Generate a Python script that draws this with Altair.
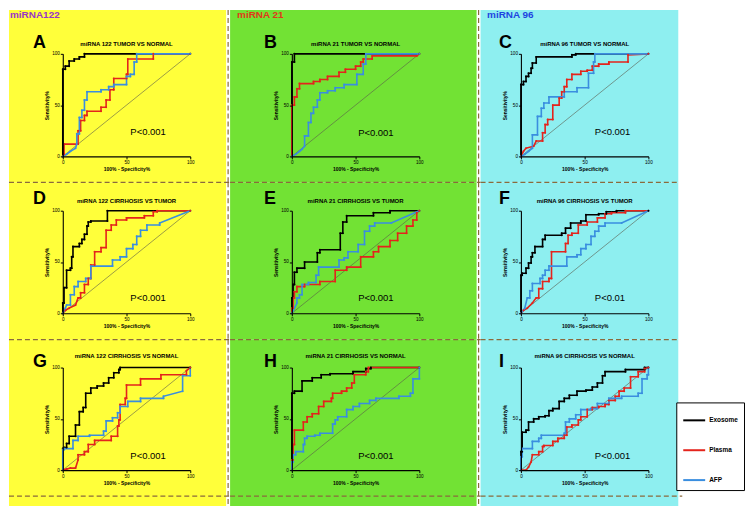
import altair as alt
import pandas as pd

FONT = "Liberation Sans, Arial, sans-serif"

SERIES = ["Exosome", "Plasma", "AFP"]
SERIES_COLORS = ["#000000", "#E4241C", "#3A8EDF"]

PANEL_LETTERS = ["A", "B", "C", "D", "E", "F", "G", "H", "I"]
PANEL_TITLES = [
    "miRNA 122 TUMOR VS NORMAL", "miRNA 21 TUMOR VS NORMAL", "miRNA 96 TUMOR VS NORMAL",
    "miRNA 122 CIRRHOSIS VS TUMOR", "miRNA 21 CIRRHOSIS VS TUMOR", "miRNA 96 CIRRHOSIS VS TUMOR",
    "miRNA 122 CIRRHOSIS VS NORMAL", "miRNA 21 CIRRHOSIS VS NORMAL", "miRNA 96 CIRRHOSIS VS NORMAL",
]
P_LABELS = ["P<0.001", "P<0.001", "P<0.001", "P<0.001", "P<0.001", "P<0.01", "P<0.001", "P<0.001", "P<0.001"]
P_X = [53, 52, 58, 53, 52, 58, 53, 52, 58]
P_Y = [21, 20, 21, 12, 12, 12, 11, 11, 11]

COLUMN_LABELS = ["miRNA122", "miRNA 21", "miRNA 96"]
COLUMN_LABEL_COLORS = ["#9A35C8", "#E0381A", "#1E44E0"]
COLUMN_BG = ["#FFFF3A", "#72E234", "#8EEFF0"]
DASH_COLOR = "#8A6A3C"
TICKS = [0, 50, 100]
DIAG_X = [0, 100]
DIAG_Y = [0, 100]

# ROC curves: (100% - specificity, sensitivity)
A_EXOSOME = [(0,0),(0,85),(2,85),(2,88),(5,88),(5,93),(9,93),(9,95),(13,95),(13,97),(17,97),(17,100),(100,100)]
A_PLASMA = [(0,0),(1,2),(1,12),(12,12),(12,25),(14,25),(14,35),(17,35),(17,40),(19,40),(19,44),(30,44),(30,48),(34,48),(34,55),(37,55),(37,65),(40,65),(40,76),(50,76),(50,80),(51,80),(51,95),(71,95),(71,100),(100,100)]
A_AFP = [(0,0),(3,2),(6,5),(10,8),(11,12),(11,22),(13,22),(13,38),(15,38),(15,45),(17,45),(17,55),(19,55),(19,63),(30,63),(30,65),(36,65),(36,68),(40,68),(40,70),(50,70),(50,78),(53,78),(53,80),(56,80),(56,92),(58,92),(58,100),(100,100)]

B_EXOSOME = [(0,0),(0,92),(2,92),(2,100),(100,100)]
B_PLASMA = [(0,0),(0,50),(2,50),(2,58),(4,58),(4,66),(6,66),(6,71),(17,71),(17,73),(22,73),(22,75),(28,75),(28,78),(37,78),(37,82),(42,82),(42,85),(50,85),(50,88),(54,88),(54,92),(56,92),(56,95),(63,95),(63,98),(98,98),(100,100)]
B_AFP = [(0,0),(3,2),(6,5),(8,7),(10,10),(10,20),(13,20),(13,33),(15,33),(15,42),(17,42),(17,48),(20,48),(20,55),(22,55),(22,62),(28,62),(28,64),(34,64),(34,67),(41,67),(41,70),(51,70),(51,80),(56,80),(56,90),(58,90),(58,100),(100,100)]

C_EXOSOME = [(0,0),(0,70),(2,70),(2,73),(4,73),(4,78),(6,78),(6,81),(8,81),(8,86),(9,86),(9,91),(12,91),(12,97),(40,97),(40,99),(43,99),(43,100),(100,100)]
C_PLASMA = [(0,0),(2,5),(4,8),(10,10),(12,15),(17,15),(17,23),(19,23),(19,31),(21,31),(21,36),(25,36),(25,50),(30,50),(30,57),(32,57),(32,63),(34,63),(34,68),(36,68),(36,75),(40,75),(40,80),(47,80),(47,83),(52,83),(52,84),(56,84),(56,88),(61,88),(61,90),(69,90),(69,92),(84,92),(84,99),(100,100)]
C_AFP = [(0,0),(3,2),(6,5),(9,8),(9,21),(13,21),(13,39),(16,39),(16,47),(18,47),(18,52),(22,52),(22,58),(34,58),(34,63),(44,63),(44,67),(53,67),(53,81),(57,81),(57,92),(58,92),(58,100),(100,100)]

D_EXOSOME = [(0,0),(0,10),(1,10),(1,25),(3,25),(3,42),(6,42),(6,44),(7,44),(7,55),(8,55),(8,65),(13,65),(13,68),(15,68),(15,72),(17,72),(17,77),(19,77),(19,85),(20,85),(20,89),(22,89),(22,90),(35,90),(35,100),(100,100)]
D_PLASMA = [(0,0),(2,3),(5,5),(10,8),(12,15),(14,15),(14,20),(17,20),(17,28),(20,28),(20,34),(22,34),(22,47),(25,47),(25,60),(30,60),(30,64),(34,64),(34,81),(38,81),(38,86),(42,86),(42,91),(50,91),(50,93),(64,93),(64,95),(71,95),(71,99),(74,99),(74,100),(100,100)]
D_AFP = [(0,0),(2,5),(3,8),(6,8),(6,18),(9,18),(9,26),(12,26),(12,31),(18,31),(18,34),(22,34),(22,46),(39,46),(39,52),(45,52),(45,55),(50,55),(50,63),(55,63),(55,67),(58,67),(58,75),(61,75),(61,81),(66,81),(66,86),(76,86),(76,88),(100,100)]

E_EXOSOME = [(0,0),(0,15),(1,15),(1,28),(2,28),(2,40),(4,40),(4,44),(10,44),(10,50),(20,50),(20,59),(22,59),(22,62),(38,62),(38,78),(40,78),(40,89),(43,89),(43,95),(64,95),(64,98),(77,98),(77,100),(100,100)]
E_PLASMA = [(0,0),(0,5),(1,5),(1,15),(2,15),(2,21),(4,21),(4,26),(10,26),(10,28),(22,28),(22,31),(34,31),(34,42),(43,42),(43,45),(54,45),(54,55),(64,55),(64,60),(68,60),(68,65),(77,65),(77,71),(83,71),(83,78),(90,78),(90,85),(95,85),(95,91),(98,91),(98,98),(100,100)]
E_AFP = [(0,0),(4,10),(4,15),(6,15),(6,18),(8,18),(8,28),(13,28),(13,30),(19,30),(19,37),(21,37),(21,45),(37,45),(37,52),(41,52),(41,54),(44,54),(44,60),(52,60),(52,67),(57,67),(57,80),(61,80),(61,85),(65,85),(65,88),(78,88),(100,100)]

F_EXOSOME = [(0,0),(0,37),(1,37),(1,39),(4,39),(4,44),(6,44),(6,49),(8,49),(8,55),(9,55),(9,59),(11,59),(11,65),(17,65),(17,72),(19,72),(19,76),(32,76),(32,78),(35,78),(35,83),(39,83),(39,88),(47,88),(47,90),(51,90),(51,96),(61,96),(61,97),(67,97),(67,99),(75,99),(75,100),(100,100)]
F_PLASMA = [(0,0),(2,3),(5,5),(9,10),(12,15),(14,15),(14,24),(17,24),(17,31),(22,31),(22,34),(24,34),(24,60),(35,60),(35,68),(37,68),(37,76),(40,76),(40,78),(45,78),(45,86),(52,86),(52,89),(60,89),(60,93),(66,93),(66,97),(71,97),(71,98),(82,98),(82,100),(100,100)]
F_AFP = [(0,0),(3,5),(5,15),(7,15),(7,22),(9,22),(9,29),(15,29),(15,34),(17,34),(17,37),(19,37),(19,42),(22,42),(22,46),(36,46),(36,55),(44,55),(44,57),(47,57),(47,63),(51,63),(51,67),(55,67),(55,75),(58,75),(58,80),(61,80),(61,85),(66,85),(66,88),(79,88),(100,100)]

G_EXOSOME = [(0,0),(0,21),(1,21),(1,22),(3,22),(3,26),(5,26),(5,33),(10,33),(10,44),(13,44),(13,57),(16,57),(16,61),(18,61),(18,75),(22,75),(22,80),(27,80),(27,82),(32,82),(32,85),(36,85),(36,90),(40,90),(40,95),(44,95),(44,98),(45,98),(45,100),(100,100)]
G_PLASMA = [(0,0),(3,1),(6,2),(10,2),(12,10),(12,15),(17,15),(17,18),(20,18),(20,25),(25,25),(25,29),(38,29),(38,33),(43,33),(43,43),(44,43),(44,49),(45,49),(45,64),(49,64),(49,70),(50,70),(50,83),(61,83),(61,89),(77,89),(77,93),(97,93),(97,97),(100,100)]
G_AFP = [(0,0),(0,20),(1,20),(1,21),(8,21),(8,29),(12,29),(12,33),(21,33),(21,34),(32,34),(32,38),(34,38),(34,48),(39,48),(39,51),(43,51),(43,56),(45,56),(45,62),(51,62),(51,67),(61,67),(61,70),(79,70),(79,72),(94,77),(94,92),(100,92),(100,100)]

H_EXOSOME = [(0,0),(0,75),(2,75),(2,77),(8,77),(8,87),(16,87),(16,90),(23,90),(23,93),(30,93),(30,94),(48,94),(48,96),(58,96),(58,99),(62,99),(62,100),(100,100)]
H_PLASMA = [(0,0),(0,10),(1,10),(1,25),(2,25),(2,39),(9,39),(9,47),(12,47),(12,52),(16,52),(16,55),(21,55),(21,62),(25,62),(25,67),(31,67),(31,70),(32,70),(32,75),(39,75),(39,77),(43,77),(43,80),(47,80),(47,85),(49,85),(49,93),(58,93),(58,96),(60,96),(60,100),(100,100)]
H_AFP = [(0,0),(0,8),(1,8),(1,15),(3,15),(3,18),(9,18),(9,25),(10,25),(10,31),(12,31),(12,33),(18,33),(18,34),(22,34),(22,36),(32,36),(32,45),(34,45),(34,49),(36,49),(36,52),(43,52),(43,59),(48,59),(48,62),(53,62),(53,65),(61,65),(61,68),(66,68),(66,70),(84,70),(84,72),(93,72),(93,75),(95,75),(95,89),(100,89),(100,100)]

I_EXOSOME = [(0,0),(0,18),(1,18),(1,37),(4,37),(4,39),(6,39),(6,47),(10,47),(10,50),(14,50),(14,52),(19,52),(19,53),(22,53),(22,58),(25,58),(25,60),(30,60),(30,67),(34,67),(34,70),(38,70),(38,73),(44,73),(44,77),(51,77),(51,78),(56,78),(56,81),(60,81),(60,85),(64,85),(64,92),(66,92),(66,96),(82,96),(82,98),(97,98),(97,100),(100,100)]
I_PLASMA = [(0,0),(4,0),(6,3),(8,8),(9,15),(14,15),(14,18),(17,18),(17,23),(18,23),(18,24),(25,24),(25,28),(29,28),(29,31),(34,31),(34,34),(36,34),(36,42),(40,42),(40,44),(45,44),(45,49),(47,49),(47,52),(52,52),(52,59),(56,59),(56,61),(61,61),(61,62),(66,62),(66,64),(69,64),(69,68),(74,68),(74,72),(77,72),(77,77),(81,77),(81,80),(86,80),(86,91),(92,91),(92,96),(97,96),(97,99),(100,100)]
I_AFP = [(0,0),(0,13),(1,13),(1,21),(9,21),(9,28),(14,28),(14,31),(16,31),(16,34),(34,34),(34,36),(35,36),(35,47),(38,47),(38,50),(43,50),(43,54),(47,54),(47,59),(55,59),(55,60),(60,60),(60,65),(69,65),(69,70),(79,70),(79,72),(92,72),(92,75),(95,75),(95,89),(99,89),(99,93),(100,93),(100,100)]

CURVES = {
    "A": (A_EXOSOME, A_PLASMA, A_AFP), "B": (B_EXOSOME, B_PLASMA, B_AFP), "C": (C_EXOSOME, C_PLASMA, C_AFP),
    "D": (D_EXOSOME, D_PLASMA, D_AFP), "E": (E_EXOSOME, E_PLASMA, E_AFP), "F": (F_EXOSOME, F_PLASMA, F_AFP),
    "G": (G_EXOSOME, G_PLASMA, G_AFP), "H": (H_EXOSOME, H_PLASMA, H_AFP), "I": (I_EXOSOME, I_PLASMA, I_AFP),
}

rows = []
for p, curves in CURVES.items():
    for s, pts in zip(SERIES, curves):
        for i, (x, y) in enumerate(pts):
            rows.append({"panel": p, "series": s, "idx": i, "x": x, "y": y})
roc = pd.DataFrame(rows)
ptab = pd.DataFrame({"panel": PANEL_LETTERS, "x": P_X, "y": P_Y, "label": P_LABELS})
diag = pd.DataFrame({"x": DIAG_X, "y": DIAG_Y})

# layout (page pixels)
W, H = 128, 103
LEFT = [62, 292, 522]
TOP = [52, 209.5, 367]
COL_X = [(8, 226), (230, 477.5), (481.5, 680)]
ROW_Y = [(8, 181), (181, 339), (339, 506)]
VLINES = [228, 479.5]
LETTER_DX = [-30, -28, -22]
LETTER_DY = [-6, -6.5, -1]
TITLE_DY = [-8, -7.5, -9.5]
COLLABEL_DX = [-53, -55, -34]

AXIS_STYLE = dict(values=TICKS, zindex=1, labelFontSize=4.6, titleFontSize=5, titleFontWeight="bold",
                  labelFont=FONT, titleFont=FONT, tickSize=2.5, domainColor="black", tickColor="black",
                  domainWidth=1.1, tickWidth=1, grid=False, labelPadding=1, titlePadding=2,
                  labelColor="black", titleColor="black", labelFlush=False)


def xenc():
    return alt.X("x:Q", scale=alt.Scale(domain=[0, 100], nice=False),
                 axis=alt.Axis(title="100% - Specificity%", **AXIS_STYLE))


def yenc():
    return alt.Y("y:Q", scale=alt.Scale(domain=[0, 100], nice=False),
                 axis=alt.Axis(title="Sensitivity%", **AXIS_STYLE))


def one():
    return alt.Data(values=[{"a": 1}])


def panel(k):
    r, c = divmod(k, 3)
    L, T = LEFT[c], TOP[r]
    letter = PANEL_LETTERS[k]
    xs, xe = COL_X[c]
    ys, ye = ROW_Y[r]
    layers = [
        alt.Chart(one()).mark_rect(color=COLUMN_BG[c]).encode(
            x=alt.value(xs - L), x2=alt.value(xe - L), y=alt.value(ys - T), y2=alt.value(ye - T))
    ]
    hx1 = xs - L
    hx2 = (COL_X[c + 1][0] if c < 2 else 680) - L
    hys = []
    if r == 1:
        hys = [(181, hx2)]
    if r == 2:
        hys = [(339, hx2), (496, (684 - L) if c == 2 else hx2)]
    for hy, end in hys:
        layers.append(alt.Chart(one()).mark_rule(color=DASH_COLOR, strokeDash=[5, 3], strokeWidth=1.3).encode(
            x=alt.value(hx1), x2=alt.value(end), y=alt.value(hy - T)))
    if c > 0:
        layers.append(alt.Chart(one()).mark_rule(color=DASH_COLOR, strokeDash=[5, 3], strokeWidth=1.2).encode(
            x=alt.value(VLINES[c - 1] - L), y=alt.value(ys - T), y2=alt.value(ye - T)))
    layers.append(alt.Chart(diag).mark_line(color="#5a5a4a", strokeWidth=0.6).encode(x=xenc(), y=yenc()))
    layers.append(
        alt.Chart(roc).transform_filter(alt.datum.panel == letter)
        .mark_line(strokeWidth=1.6, point=alt.OverlayMarkDef(size=4, filled=True, opacity=1))
        .encode(
            x=xenc(), y=yenc(),
            color=alt.Color("series:N", scale=alt.Scale(domain=SERIES, range=SERIES_COLORS),
                            legend=alt.Legend(orient="none", legendX=616, legendY=350, title=None,
                                              symbolType="stroke", symbolSize=484, symbolStrokeWidth=2,
                                              labelFontSize=6.5, labelFontWeight="bold", labelFont=FONT,
                                              labelColor="black", strokeColor="black", fillColor="white",
                                              padding=6, rowPadding=14, labelOffset=3)),
            order="idx:Q")
    )
    layers.append(
        alt.Chart(ptab).transform_filter(alt.datum.panel == letter)
        .mark_text(align="left", baseline="alphabetic", fontSize=9.5, font=FONT, color="black")
        .encode(x=xenc(), y=yenc(), text="label:N")
    )
    layers.append(alt.Chart(one()).mark_text(text=PANEL_TITLES[k], fontSize=6, fontWeight="bold", font=FONT,
                                             align="center", baseline="alphabetic", color="black").encode(
        x=alt.value(W / 2), y=alt.value(TITLE_DY[r])))
    layers.append(alt.Chart(one()).mark_text(text=letter, fontSize=18, fontWeight="bold", font=FONT,
                                             align="left", baseline="alphabetic", color="black").encode(
        x=alt.value(LETTER_DX[c]), y=alt.value(LETTER_DY[r])))
    if r == 0:
        layers.append(alt.Chart(one()).mark_text(text=COLUMN_LABELS[c], fontSize=10, fontWeight="bold", font=FONT,
                                                 align="left", baseline="alphabetic",
                                                 color=COLUMN_LABEL_COLORS[c]).encode(
            x=alt.value(COLLABEL_DX[c]), y=alt.value(16 - T)))
    return alt.layer(*layers).properties(width=W, height=H)


chart = (
    alt.concat(*[panel(k) for k in range(9)], columns=3, spacing={"row": 54.5, "column": 102}, bounds="flush")
    .resolve_scale(x="independent", y="independent", color="shared")
    .properties(padding=0, background="white")
    .configure_view(stroke=None)
)

chart.save("out.html", embed_options={"renderer": "svg", "actions": False})
